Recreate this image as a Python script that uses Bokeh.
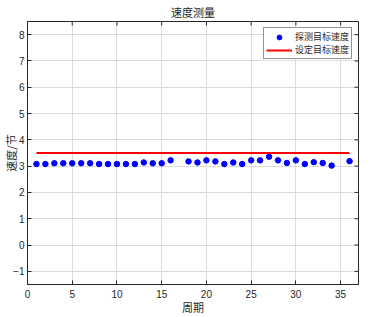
import math
from bokeh.plotting import figure
from bokeh.models import Range1d, Legend, LegendItem, FixedTicker, ColumnDataSource
from bokeh.embed import file_html
from bokeh.resources import INLINE

period = [1, 2, 3, 4, 5, 6, 7, 8, 9, 10, 11, 12, 13, 14, 15, 16,
          18, 19, 20, 21, 22, 23, 24, 25, 26, 27, 28, 29, 30, 31, 32, 33, 34, 36]
speed = [3.08, 3.08, 3.11, 3.11, 3.11, 3.11, 3.11, 3.08, 3.08, 3.08, 3.08, 3.08,
         3.14, 3.11, 3.11, 3.22, 3.18, 3.14, 3.22, 3.18, 3.08, 3.14, 3.08, 3.22,
         3.22, 3.36, 3.22, 3.12, 3.22, 3.08, 3.15, 3.12, 3.02, 3.19]
set_x = [1, 36]
set_speed = [3.5, 3.5]
x_ticks = [0, 5, 10, 15, 20, 25, 30, 35]
y_ticks = [-1, 0, 1, 2, 3, 4, 5, 6, 7, 8]
x_lim = (0, 37)
y_lim = (-1.5, 8.5)

CJK = "Noto Sans CJK SC"
TXT = "#262626"

p = figure(width=372, height=317, output_backend="svg", toolbar_location=None,
           x_range=Range1d(*x_lim), y_range=Range1d(*y_lim),
           title="速度测量", min_border_left=0, min_border_right=14,
           min_border_top=4, min_border_bottom=0)
p.title.align = "center"
p.title.text_font = CJK
p.title.text_font_size = "11px"
p.title.text_font_style = "normal"
p.title.text_color = TXT
p.title.standoff = 3

p.outline_line_color = TXT
p.outline_line_width = 1
p.outline_line_alpha = 1

for ax in (p.xaxis[0], p.yaxis[0]):
    ax.major_tick_in = 4
    ax.major_tick_out = 0
    ax.minor_tick_line_color = None
    ax.axis_line_color = TXT
    ax.major_tick_line_color = TXT
    ax.major_label_text_font = "Liberation Sans"
    ax.major_label_text_font_size = "10px"
    ax.major_label_text_color = TXT
    ax.axis_label_text_font = CJK
    ax.axis_label_text_font_size = "11px"
    ax.axis_label_text_font_style = "normal"
    ax.axis_label_text_color = TXT

p.xaxis.ticker = FixedTicker(ticks=x_ticks)
p.yaxis.ticker = FixedTicker(ticks=y_ticks)
p.xaxis.axis_label = "周期"
p.yaxis.axis_label = "速度/节"
p.xaxis.major_label_standoff = 5
p.yaxis.major_label_standoff = 3
p.xaxis.axis_label_standoff = -2
p.yaxis.axis_label_standoff = -9

p.xgrid.grid_line_color = "#dcdcdc"
p.ygrid.grid_line_color = "#dcdcdc"
p.xgrid.grid_line_alpha = 1
p.ygrid.grid_line_alpha = 1

# mirrored tick marks on the top and right edges of the box
p.scatter(x_ticks, [y_lim[1]] * len(x_ticks), marker="dash", size=8,
          angle=math.pi / 2, line_color=TXT, line_width=1)
p.scatter([x_lim[1]] * len(y_ticks), y_ticks, marker="dash", size=8,
          line_color=TXT, line_width=1)

src = ColumnDataSource(dict(x=period, y=speed))
r_pts = p.scatter("x", "y", source=src, size=5.5, color="#0000ff")
r_line = p.line(set_x, set_speed, line_color="#ff0000", line_width=2)

legend = Legend(items=[LegendItem(label="探测目标速度", renderers=[r_pts]),
                       LegendItem(label="设定目标速度", renderers=[r_line])],
                location="top_right")
legend.label_text_font = CJK
legend.label_text_font_size = "9px"
legend.label_text_color = TXT
legend.border_line_color = TXT
legend.border_line_width = 1
legend.padding = 2
legend.spacing = 0
legend.margin = 6
legend.glyph_width = 26
legend.glyph_height = 12
legend.label_height = 12
legend.label_standoff = 3
p.add_layout(legend)

open("out.html", "w").write(file_html(p, INLINE))
